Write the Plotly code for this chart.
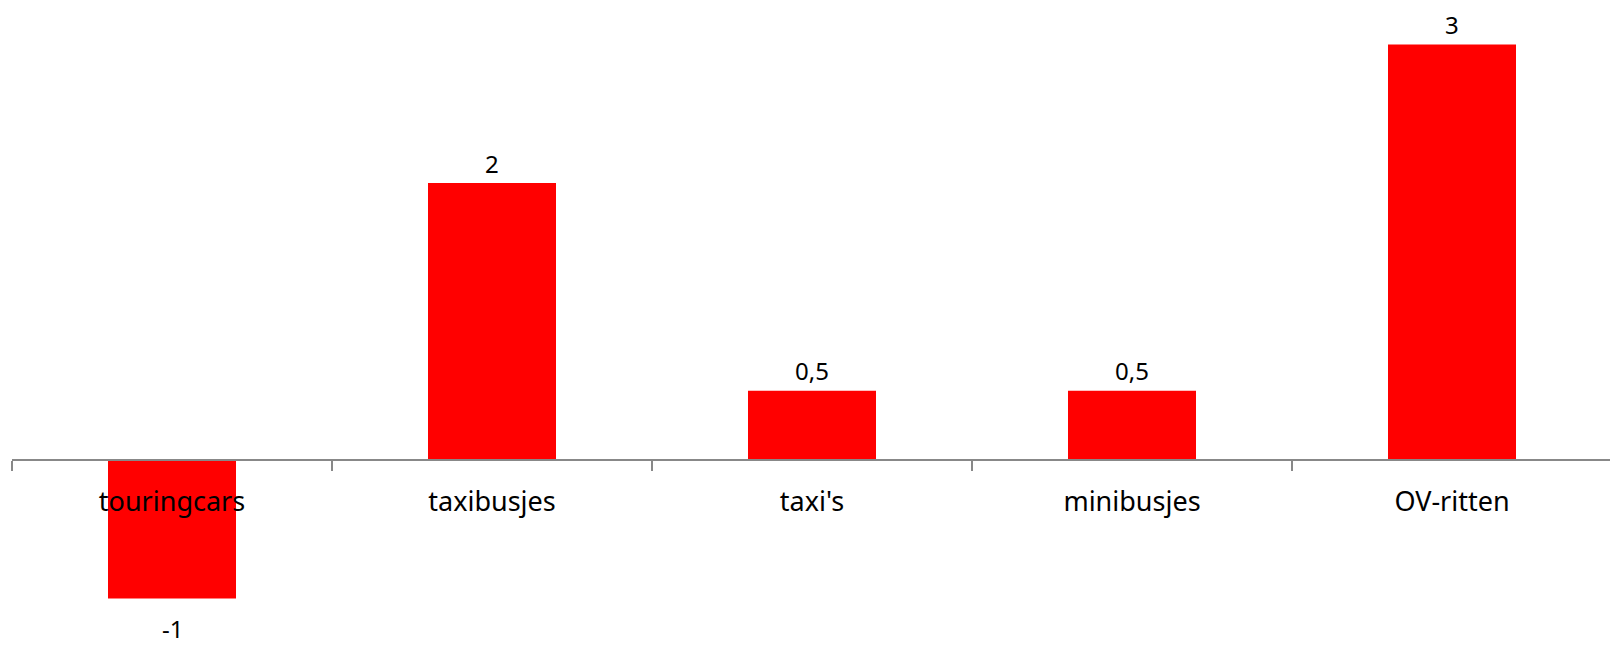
import plotly.graph_objects as go

categories = ["touringcars", "taxibusjes", "taxi's", "minibusjes", "OV-ritten"]
values = [-1, 2, 0.5, 0.5, 3]

W, H = 1618, 645
zero_px = 452          # distance of the zero line from the figure top
unit_px = 138.5        # pixels per unit
y_top = zero_px / unit_px
y_bot = -(H - zero_px) / unit_px

fig = go.Figure(
    go.Bar(
        x=categories,
        y=values,
        width=0.4,
        marker=dict(color="#FF0000", line=dict(width=0)),
        hoverinfo="skip",
    )
)

for c, v in zip(categories, values):
    txt = f"{v:g}".replace(".", ",")
    fig.add_annotation(
        x=c,
        y=v,
        text=txt,
        showarrow=False,
        xanchor="center",
        yanchor="middle",
        yshift=20 if v >= 0 else -30,
        borderpad=0,
        font=dict(family="Noto Sans", size=24, color="#000000"),
    )

fig.update_layout(
    width=W,
    height=H,
    margin=dict(l=4, r=14, t=0, b=0),
    paper_bgcolor="white",
    plot_bgcolor="white",
    showlegend=False,
    xaxis=dict(
        type="category",
        range=[-0.5, 4.5],
        anchor="free",
        position=(H - zero_px) / H,
        showline=True,
        linecolor="#888888",
        linewidth=1.5,
        ticks="outside",
        tickson="boundaries",
        ticklen=10,
        tickwidth=1.5,
        tickcolor="#888888",
        showgrid=False,
        zeroline=False,
        ticklabelstandoff=18,
        tickfont=dict(family="Noto Sans", size=27, color="#000000"),
        automargin=False,
        layer="above traces",
    ),
    yaxis=dict(
        range=[y_bot, y_top],
        visible=False,
        showgrid=False,
        zeroline=False,
        automargin=False,
    ),
)

fig.write_html("out.html")
